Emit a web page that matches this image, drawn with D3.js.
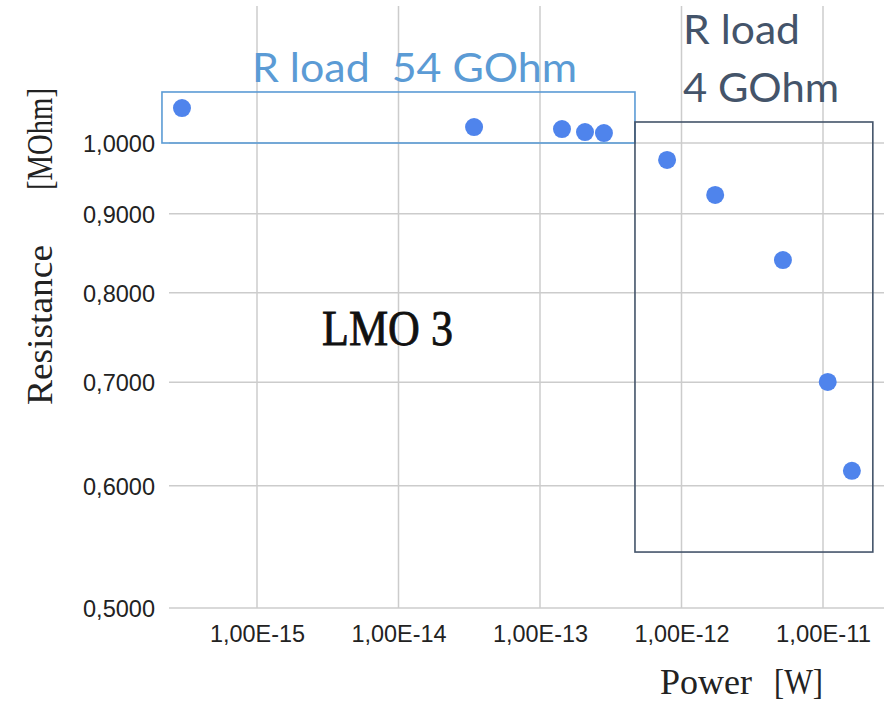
<!DOCTYPE html>
<html>
<head>
<meta charset="utf-8">
<script src="https://cdn.jsdelivr.net/npm/d3@7"></script>
<style>
  html, body { margin: 0; padding: 0; background: #fff; }
  svg { display: block; }
  text.pre { white-space: pre; }
</style>
</head>
<body>
<svg id="chart" width="884" height="707"></svg>
<script>
// Measured points: power [W] vs resistance [MOhm]
const power = [2.95e-16, 3.42e-14, 1.43e-13, 2.08e-13, 2.83e-13, 7.91e-13, 1.73e-12, 5.21e-12, 1.08e-11, 1.60e-11];
const resistance = [1.0535, 1.024, 1.021, 1.0165, 1.015, 0.975, 0.9255, 0.8399, 0.7004, 0.6134];

// Axis ticks
const xTicks = [1e-15, 1e-14, 1e-13, 1e-12, 1e-11];
const yTicks = [0.5, 0.6, 0.7, 0.8, 0.9, 1.0];

// Load-resistor groupings: [xMin, xMax, yMin, yMax] in data units
const groupLabels = ["R load  54 GOhm", "R load\n4 GOhm"];
const groupBoxes = [
  [2.13e-16, 4.69e-13, 1.0, 1.079],
  [4.69e-13, 2.25e-11, 0.5435, 1.0318]
];

const svg = d3.select("#chart");

const plot = { left: 169, right: 884, top: 6, bottom: 608 };

const x = d3.scaleLog().domain([1e-15, 1e-11]).range([257, 823]);
const y = d3.scaleLog().domain([0.5, 1.0]).range([608, 143]);

const gridColor = "#cccccc";

// grid
svg.append("g").selectAll("line").data(yTicks).join("line")
  .attr("x1", plot.left).attr("x2", plot.right)
  .attr("y1", d => y(d)).attr("y2", d => y(d))
  .attr("stroke", gridColor).attr("stroke-width", 1.5);

svg.append("g").selectAll("line").data(xTicks).join("line")
  .attr("x1", d => x(d)).attr("x2", d => x(d))
  .attr("y1", plot.top).attr("y2", plot.bottom)
  .attr("stroke", gridColor).attr("stroke-width", 1.5);

// x axis labels
const xAxis = d3.axisBottom(x).tickValues(xTicks).tickSize(0).tickPadding(0)
  .tickFormat(d => "1,00E" + Math.round(Math.log10(d)));
svg.append("g").attr("transform", `translate(0,${plot.bottom})`).call(xAxis)
  .call(g => g.select(".domain").remove())
  .call(g => g.selectAll("text")
    .attr("y", 34).attr("dy", null)
    .attr("font-family", "Liberation Sans, Arial, sans-serif")
    .attr("font-size", 24).attr("fill", "#222")
    .attr("textLength", 95).attr("lengthAdjust", "spacingAndGlyphs"));

// y axis labels
const yAxis = d3.axisLeft(y).tickValues(yTicks).tickSize(0).tickPadding(0)
  .tickFormat(d => d3.format(".4f")(d).replace(".", ","));
svg.append("g").attr("transform", `translate(155,0)`).call(yAxis)
  .call(g => g.select(".domain").remove())
  .call(g => g.selectAll("text")
    .attr("x", 0).attr("dy", "0.36em")
    .attr("font-family", "Liberation Sans, Arial, sans-serif")
    .attr("font-size", 24).attr("fill", "#222")
    .attr("textLength", 72).attr("lengthAdjust", "spacingAndGlyphs"));

// axis titles
const serif = "Liberation Serif, DejaVu Serif, serif";
const yTitle = svg.append("g").attr("transform", "translate(52,0) rotate(-90)");
yTitle.append("text").attr("x", -405).attr("y", 0)
  .attr("font-family", serif).attr("font-size", 36).attr("fill", "#222")
  .attr("textLength", 160).attr("lengthAdjust", "spacingAndGlyphs")
  .text("Resistance");
yTitle.append("text").attr("x", -190).attr("y", 0)
  .attr("font-family", serif).attr("font-size", 36).attr("fill", "#222")
  .attr("textLength", 102).attr("lengthAdjust", "spacingAndGlyphs")
  .text("[MOhm]");

svg.append("text").attr("x", 660).attr("y", 694)
  .attr("font-family", serif).attr("font-size", 36).attr("fill", "#222")
  .attr("textLength", 92).attr("lengthAdjust", "spacingAndGlyphs")
  .text("Power");
svg.append("text").attr("x", 774).attr("y", 694)
  .attr("font-family", serif).attr("font-size", 36).attr("fill", "#222")
  .attr("textLength", 49).attr("lengthAdjust", "spacingAndGlyphs")
  .text("[W]");

// sample label
svg.append("text").attr("x", 322).attr("y", 345)
  .attr("font-family", serif).attr("font-size", 51).attr("fill", "#111")
  .attr("stroke", "#111").attr("stroke-width", 0.8)
  .attr("textLength", 131).attr("lengthAdjust", "spacingAndGlyphs")
  .text("LMO 3");

// group boxes
const boxColors = ["#5b9bd5", "#44546a"];
svg.append("g").selectAll("rect").data(groupBoxes).join("rect")
  .attr("x", d => x(d[0])).attr("width", d => x(d[1]) - x(d[0]))
  .attr("y", d => y(d[3])).attr("height", d => y(d[2]) - y(d[3]))
  .attr("fill", "none")
  .attr("stroke", (d, i) => boxColors[i]).attr("stroke-width", 1.6);

// group labels
const sans = "Lato, Open Sans, sans-serif";
svg.append("text").attr("class", "pre").attr("x", 252).attr("y", 82)
  .attr("font-family", sans).attr("font-size", 40).attr("fill", boxColors[0])
  .attr("textLength", 325).attr("lengthAdjust", "spacingAndGlyphs")
  .text(groupLabels[0]);
const rLines = groupLabels[1].split("\n");
const rLens = [117, 156];
rLines.forEach((t, i) => {
  svg.append("text").attr("x", 683).attr("y", 44 + i * 58)
    .attr("font-family", sans).attr("font-size", 40).attr("fill", boxColors[1])
    .attr("textLength", rLens[i]).attr("lengthAdjust", "spacingAndGlyphs")
    .text(t);
});

// points
svg.append("g").selectAll("circle").data(power).join("circle")
  .attr("cx", d => x(d)).attr("cy", (d, i) => y(resistance[i]))
  .attr("r", 9).attr("fill", "#4f84ec");
</script>
</body>
</html>
